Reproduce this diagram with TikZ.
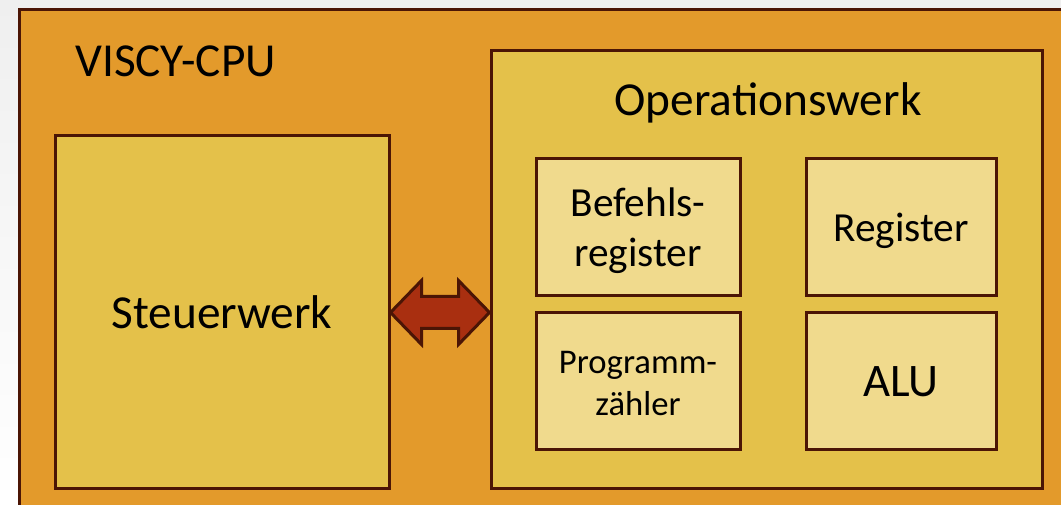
\documentclass[tikz,border=0pt]{standalone}
\usepackage{fontspec}
\setmainfont{Carlito}
\usetikzlibrary{calc}
\definecolor{bgcol}{HTML}{EFEFEF}
\definecolor{cpucol}{HTML}{E39A2B}
\definecolor{unitcol}{HTML}{E4C14A}
\definecolor{regcol}{HTML}{F0DA8D}
\definecolor{edgecol}{HTML}{4B1505}
\definecolor{arrowcol}{HTML}{A92F10}
\tikzset{
  frame/.style={draw=edgecol, line width=2.25pt, inner sep=0pt, align=center},
  unitbox/.style={frame, fill=unitcol, font=\fontsize{35.5}{42}\selectfont},
  regbox/.style={frame, fill=regcol, minimum height=103pt},
  bigreg/.style={regbox, font=\fontsize{31}{37.5}\selectfont},
  smallreg/.style={regbox, font=\fontsize{26}{31.5}\selectfont},
  boxtext/.style={inner sep=0pt, align=center}
}
\tikzset{
  busarrow/.style={draw=edgecol, line width=2.25pt, line join=miter, fill=arrowcol}
}
\begin{document}
\begin{tikzpicture}[x=0.75pt, y=-0.75pt]
  % canvas
  \fill[top color=bgcol, bottom color=white] (0,0) rectangle (1061,505);
  \useasboundingbox (0,0) rectangle (1061,505);
  \begin{scope}
    \clip (0,0) rectangle (1061,505);
    % processor frame (runs past the right and bottom edge)
    \node[frame, fill=cpucol, minimum width=795pt, minimum height=390pt,
          anchor=north west] (cpu) at (18,8) {};
  \end{scope}
  \node[anchor=base west, inner sep=0pt, font=\fontsize{35.5}{42}\selectfont]
       (cpulabel) at (75,77) {VISCY-CPU};

  % control unit
  \node[unitbox, minimum width=250.5pt, minimum height=264.75pt]
       (steuer) at (222,312.5) {Steuerwerk};

  % data path
  \node[unitbox, minimum width=413.25pt, minimum height=328.5pt]
       (opw) at (766.5,270) {};
  \node[anchor=base, inner sep=0pt, font=\fontsize{35.5}{42}\selectfont]
       (opwlabel) at (768,116) {Operationswerk};

  \node[bigreg, minimum width=153pt] (befehl) at (638,227) {};
  \node[bigreg, minimum width=142.5pt] (reg) at (901,227) {};
  \node[smallreg, minimum width=153pt] (pc) at (638,381) {};
  \node[bigreg, minimum width=142.5pt] (alu) at (901,381) {};

  \node[boxtext, font=\fontsize{31}{37.5}\selectfont] (befehltext)
       at ($(befehl.center)+(0,4)$) {Befehls-\\register};
  \node[boxtext, font=\fontsize{31}{37.5}\selectfont] (regtext)
       at ($(reg.center)+(0,4)$) {Register};
  \node[boxtext, font=\fontsize{26}{31.5}\selectfont] (pctext)
       at ($(pc.center)+(0,3)$) {Programm-\\zähler};
  \node[boxtext, font=\fontsize{35}{42}\selectfont] (alutext)
       at ($(alu.center)+(0,1)$) {ALU};

  % bidirectional bus between the two units
  \coordinate (L) at (steuer.east);
  \coordinate (R) at (steuer.east -| opw.west);
  \draw[busarrow] (L) -- ($(L)+(31,-32)$) -- ($(L)+(31,-16)$)
     -- ($(R)+(-31,-16)$) -- ($(R)+(-31,-32)$) -- (R)
     -- ($(R)+(-31,32)$) -- ($(R)+(-31,16)$)
     -- ($(L)+(31,16)$) -- ($(L)+(31,32)$) -- cycle;
\end{tikzpicture}
\end{document}
